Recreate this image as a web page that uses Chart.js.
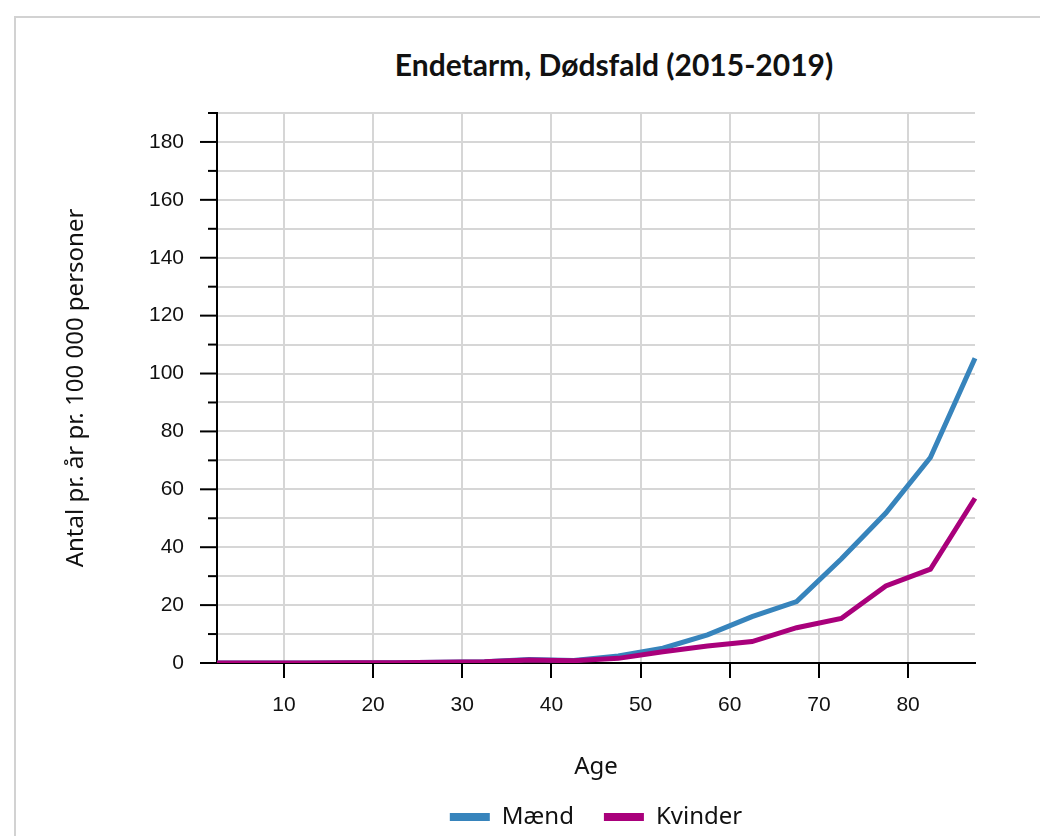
<!DOCTYPE html>
<html>
<head>
<meta charset="utf-8">
<script src="https://cdn.jsdelivr.net/npm/chart.js@4/dist/chart.umd.min.js"></script>
<style>
  html, body { margin: 0; padding: 0; background: #fff; overflow: hidden; }
  #frame { position: absolute; left: 14px; top: 16px; width: 1200px; height: 1000px; border: 2px solid #d2d2d2; box-sizing: border-box; }
  #title { position: absolute; left: 314px; width: 600px; top: 46px; line-height: 36px; text-align: center; white-space: nowrap;
           font-family: Lato, "Noto Sans", sans-serif; font-weight: 700; font-size: 30px; color: #111; }
  #wrap { position: absolute; left: 0; top: 0; width: 1040px; height: 839px; }
</style>
</head>
<body>
<div id="frame"></div>
<div id="title">Endetarm, Dødsfald (2015-2019)</div>
<div id="wrap"><canvas id="c" width="1040" height="839"></canvas></div>
<script>
// ---- data ----
const ages = [2.5, 7.5, 12.5, 17.5, 22.5, 27.5, 32.5, 37.5, 42.5, 47.5, 52.5, 57.5, 62.5, 67.5, 72.5, 77.5, 82.5, 87.5];
const maend = [0, 0, 0, 0.1, 0.1, 0.3, 0.4, 1.2, 0.9, 2.4, 5.1, 9.7, 16.0, 21.2, 35.9, 51.8, 71.0, 105.3];
const kvinder = [0, 0, 0, 0.1, 0.1, 0.3, 0.4, 1.0, 0.8, 1.6, 3.9, 5.9, 7.4, 12.2, 15.4, 26.6, 32.4, 56.9];
const seriesNames = ['Mænd', 'Kvinder'];
const xTicks = [10, 20, 30, 40, 50, 60, 70, 80];
const yLabelTicks = [0, 20, 40, 60, 80, 100, 120, 140, 160, 180];
const xTitle = 'Age';
const yTitle = 'Antal pr. år pr. 100 000 personer';

const BLUE = '#3784bc';
const MAGENTA = '#a9007b';
const INK = '#111';

const yTickMarks = {
  id: 'yTickMarks',
  afterDraw(chart) {
    const ys = chart.scales.y;
    const ctx = chart.ctx;
    const x0 = chart.chartArea.left;
    ctx.save();
    ctx.strokeStyle = '#000';
    ctx.lineWidth = 2;
    ys.ticks.forEach(t => {
      const py = ys.getPixelForValue(t.value);
      const len = yLabelTicks.includes(t.value) ? 17 : 9;
      ctx.beginPath();
      ctx.moveTo(x0 - len, py);
      ctx.lineTo(x0, py);
      ctx.stroke();
    });
    ctx.restore();
  }
};

const tickFont = { family: '"Liberation Sans", Arial, sans-serif', size: 21 };
const textFont = { family: '"Noto Sans", sans-serif', size: 24 };

new Chart(document.getElementById('c'), {
  type: 'line',
  data: {
    datasets: [
      { label: seriesNames[0], data: ages.map((a, i) => ({ x: a, y: maend[i] })), order: 1,
        borderColor: BLUE, backgroundColor: BLUE, borderWidth: 5, pointRadius: 0, tension: 0,
        clip: { left: 5, top: 5, right: 5, bottom: 0 } },
      { label: seriesNames[1], data: ages.map((a, i) => ({ x: a, y: kvinder[i] })), order: 0,
        borderColor: MAGENTA, backgroundColor: MAGENTA, borderWidth: 5, pointRadius: 0, tension: 0,
        clip: { left: 5, top: 5, right: 5, bottom: 0 } }
    ]
  },
  options: {
    responsive: false,
    animation: false,
    layout: { padding: { left: 60, top: 113, right: 65, bottom: 0 } },
    plugins: {
      title: { display: false },
      tooltip: { enabled: false },
      legend: {
        position: 'bottom',
        fullSize: false,
        labels: {
          boxWidth: 40, boxHeight: 8, padding: 30, color: INK, font: textFont,
          sort: (a, b) => a.datasetIndex - b.datasetIndex,
          generateLabels: (chart) => Chart.defaults.plugins.legend.labels.generateLabels(chart)
            .map(l => Object.assign(l, { lineWidth: 0 }))
        }
      }
    },
    scales: {
      x: {
        type: 'linear', min: ages[0], max: ages[ages.length - 1],
        afterBuildTicks(scale) { scale.ticks = xTicks.map(v => ({ value: v })); },
        afterFit(scale) { scale.height = 112; },
        ticks: { font: tickFont, color: INK, padding: 15, maxRotation: 0, autoSkip: false },
        grid: { color: '#d6d6d6', lineWidth: 2, drawTicks: true, tickLength: 15, tickColor: '#000', tickWidth: 2 },
        border: { display: true, color: '#000', width: 2 },
        title: { display: true, text: xTitle, font: textFont, color: INK, padding: { top: 0, bottom: -7 } }
      },
      y: {
        type: 'linear', min: 0, max: 190,
        afterFit(scale) { scale.width = 157; },
        ticks: { stepSize: 10, font: tickFont, color: INK, padding: 33, autoSkip: false,
                 callback: (v) => yLabelTicks.includes(v) ? String(v) : '' },
        grid: { color: '#d6d6d6', lineWidth: 2, drawTicks: false },
        border: { display: true, color: '#000', width: 2 },
        title: { display: true, text: yTitle, font: textFont, color: INK, padding: { top: 2, bottom: 0 } }
      }
    }
  },
  plugins: [yTickMarks]
});
</script>
</body>
</html>
